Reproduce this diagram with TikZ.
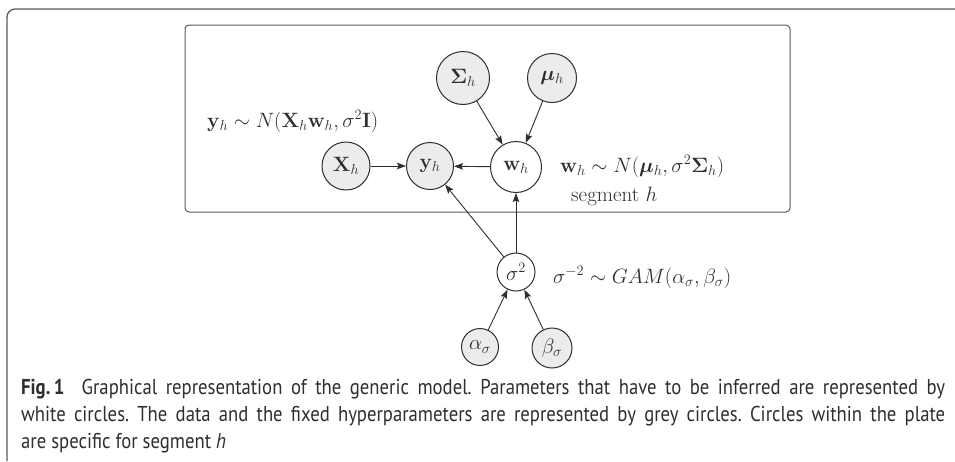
\documentclass[tikz,border=0pt]{standalone}
\usepackage{amsmath,amssymb,bm}
\usepackage[no-math]{fontspec}
\usetikzlibrary{arrows.meta}
\newfontfamily\capfont[FakeStretch=0.87]{PT Sans}
\definecolor{framegray}{HTML}{5A5A5A}
\definecolor{nodefill}{HTML}{ECECEC}
\definecolor{inkgray}{HTML}{2E2E2E}
\tikzset{
  var/.style={circle, draw=inkgray, line width=1pt, inner sep=0pt, fill=white, text=inkgray},
  obs/.style={var, fill=nodefill},
  edge/.style={-{Stealth[length=9pt,width=6.5pt,inset=1.5pt]}, line width=0.9pt, draw=inkgray},
  mathlbl/.style={anchor=base west, inner sep=0pt, text=inkgray},
  capline/.style={anchor=base west, inner sep=0pt, text=inkgray},
}
\newcommand{\capbox}[1]{\makebox[924pt][s]{#1}}
\frenchspacing
\begin{document}
\begin{tikzpicture}[x=1pt,y=-1pt,font=\fontsize{21}{25}\selectfont]
\useasboundingbox (0,0) rectangle (955,461);
% outer frame
\draw[framegray, line width=1.3pt, rounded corners=8pt] (7,461) -- (7,9) -- (956,9);
% plate
\draw[framegray, line width=1pt, rounded corners=4pt] (185,25) rectangle (790,212);
% nodes
\node[obs, minimum size=53pt] (S) at (463,78) {$\bm{\Sigma}_h$};
\node[obs, minimum size=49pt] (M) at (552,78) {$\bm{\mu}_h$};
\node[obs, minimum size=48pt] (X) at (346,166) {$\mathbf{X}_h$};
\node[obs, minimum size=47pt] (Y) at (430,166) {$\mathbf{y}_h$};
\node[var, minimum size=51pt] (W) at (516,167) {$\mathbf{w}_h$};
\node[var, minimum size=38pt] (s2) at (516,272) {$\sigma^2$};
\node[obs, minimum size=37pt] (A) at (480,347) {$\alpha_\sigma$};
\node[obs, minimum size=40pt] (B) at (552,348) {$\beta_\sigma$};
% edges
\draw[edge] (X) -- (Y);
\draw[edge] (W) -- (Y);
\draw[edge] (S) -- (W);
\draw[edge] (M) -- (W);
\draw[edge] (s2) -- (Y);
\draw[edge] (s2) -- (W);
\draw[edge] (A) -- (s2);
\draw[edge] (B) -- (s2);
% labels
\node[mathlbl] (ly) at (207,127) {$\mathbf{y}_h\sim N(\mathbf{X}_h\mathbf{w}_h,\sigma^2\mathbf{I})$};
\node[mathlbl] (lw) at (560,172) {$\mathbf{w}_h\sim N(\bm{\mu}_h,\sigma^2\bm{\Sigma}_h)$};
\node[mathlbl] (lseg) at (571,201) {segment $h$};
\node[mathlbl] (ls) at (553,283) {$\sigma^{-2}\sim GAM(\alpha_\sigma,\beta_\sigma)$};
% caption
\begin{scope}[font=\capfont\fontsize{21.5}{25}\selectfont]
\node[capline] (c1) at (21,394) {\capbox{\textbf{Fig.\,1}\hspace{0.4em} Graphical representation of the generic model. Parameters that have to be inferred are represented by}};
\node[capline] (c2) at (21,421) {\capbox{white circles. The data and the fixed hyperparameters are represented by grey circles. Circles within the plate}};
\node[capline] (c3) at (21,448) {are specific for segment \textit{h}};
\end{scope}
\end{tikzpicture}
\end{document}
